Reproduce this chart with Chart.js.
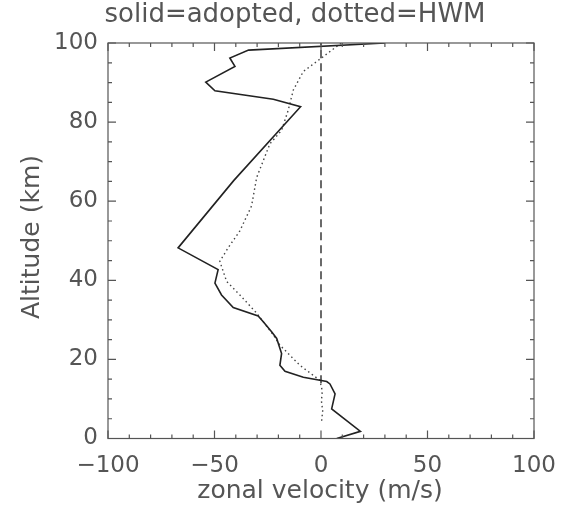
<!DOCTYPE html>
<html>
<head>
<meta charset="utf-8">
<script src="https://cdn.jsdelivr.net/npm/chart.js@4"></script>
<style>
  html, body { margin: 0; padding: 0; background: #fff; }
  #wrap { width: 567px; height: 506px; }
</style>
</head>
<body>
<div id="wrap"><canvas id="c" width="567" height="506"></canvas></div>
<script>
// ---- data (altitude in km, zonal velocity in m/s) ----
const adoptedAlt = [0, 1.8, 7.5, 11.3, 13.8, 14.4, 15.5, 17.0, 18.5, 21.5, 25.3, 27.0, 29.5, 31.0, 33.1, 36.3, 39.3, 42.7, 48.2, 65.2, 83.9, 85.8, 87.9, 90.1, 94.1, 96.2, 98.2, 100];
const adoptedVel = [7.4, 18.5, 5.0, 6.6, 4.2, 2.7, -8.3, -16.9, -19.3, -18.5, -20.8, -23.2, -27.1, -29.5, -41.2, -46.7, -49.8, -48.3, -67.1, -41.0, -9.6, -22.4, -49.8, -54.1, -40.4, -42.8, -34.0, 30.0];

const hwmAlt = [4.5, 7.0, 9.5, 12.0, 14.7, 18.5, 23.6, 26.2, 29.5, 31.7, 36.3, 39.7, 44.8, 48.2, 52.5, 58.8, 66.0, 74.5, 77.9, 83.0, 88.1, 92.8, 96.0, 100];
const hwmVel = [0.3, 0.8, 0.2, 0.6, -0.5, -9.9, -19.3, -22.4, -27.1, -30.2, -38.1, -44.3, -47.5, -43.6, -38.1, -32.6, -30.2, -24.0, -18.5, -15.4, -13.0, -8.3, -0.3, 9.5];

const zeroAlt = [14, 100];
const zeroVel = [0, 0];

const xTickValues = [-100, -50, 0, 50, 100];
const yTickValues = [0, 20, 40, 60, 80, 100];
const xMinorStep = 10;
const yMinorStep = 5;

const titleText = 'solid=adopted, dotted=HWM';
const xTitleText = 'zonal velocity (m/s)';
const yTitleText = 'Altitude (km)';

function pts(xs, ys) { return xs.map((v, i) => ({ x: v, y: ys[i] })); }

const INK = '#222';
const TEXT = '#555';
const FONT = 'DejaVu Sans';

const boxTicks = {
  id: 'boxTicks',
  afterDraw(chart) {
    const { ctx, chartArea: a, scales } = chart;
    const xs = scales.x, ys = scales.y;
    ctx.save();
    ctx.strokeStyle = '#555';
    ctx.lineWidth = 1.2;
    ctx.strokeRect(a.left, a.top, a.right - a.left, a.bottom - a.top);
    ctx.beginPath();
    for (let v = xs.min; v <= xs.max + 1e-9; v += xMinorStep) {
      const px = xs.getPixelForValue(v);
      const len = (Math.abs(v % 50) < 1e-9) ? 8 : 4;
      ctx.moveTo(px, a.bottom); ctx.lineTo(px, a.bottom - len);
      ctx.moveTo(px, a.top); ctx.lineTo(px, a.top + len);
    }
    for (let v = ys.min; v <= ys.max + 1e-9; v += yMinorStep) {
      const py = ys.getPixelForValue(v);
      const len = (Math.abs(v % 20) < 1e-9) ? 8 : 4;
      ctx.moveTo(a.left, py); ctx.lineTo(a.left + len, py);
      ctx.moveTo(a.right, py); ctx.lineTo(a.right - len, py);
    }
    ctx.stroke();

    // titles
    ctx.fillStyle = TEXT;
    ctx.textAlign = 'center';
    ctx.textBaseline = 'middle';
    ctx.font = '26px "' + FONT + '"';
    ctx.fillText(titleText, 295, 15);
    ctx.textBaseline = 'alphabetic';
    ctx.font = '25px "' + FONT + '"';
    ctx.fillText(xTitleText, 320, 498);
    ctx.save();
    ctx.translate(39, 237);
    ctx.rotate(-Math.PI / 2);
    ctx.font = '25px "' + FONT + '"';
    ctx.fillText(yTitleText, 0, 0);
    ctx.restore();
    ctx.restore();
  }
};

new Chart(document.getElementById('c'), {
  type: 'scatter',
  data: {
    datasets: [
      { label: 'adopted', data: pts(adoptedVel, adoptedAlt), showLine: true, borderColor: INK, borderWidth: 1.6, pointRadius: 0, fill: false, tension: 0 },
      { label: 'HWM', data: pts(hwmVel, hwmAlt), showLine: true, borderColor: '#444', borderWidth: 1.4, borderDash: [1.5, 3], pointRadius: 0, fill: false, tension: 0 },
      { label: 'zero', data: pts(zeroVel, zeroAlt), showLine: true, borderColor: '#444', borderWidth: 1.6, borderDash: [8, 5], pointRadius: 0, fill: false }
    ]
  },
  options: {
    responsive: false,
    animation: false,
    devicePixelRatio: 1,
    layout: { padding: { left: 0, right: 33, top: 43, bottom: 0 } },
    plugins: { legend: { display: false }, title: { display: false }, tooltip: { enabled: false } },
    scales: {
      x: {
        type: 'linear', min: -100, max: 100,
        afterFit(s) { s.height = 67.5; s.paddingLeft = 0; s.paddingRight = 0; },
        afterBuildTicks(s) { s.ticks = xTickValues.map(v => ({ value: v })); },
        grid: { display: false, drawTicks: false },
        border: { display: false },
        ticks: { color: TEXT, font: { family: FONT, size: 23 }, padding: 14, maxRotation: 0,
          callback: v => (v < 0 ? '\u2212' + Math.abs(v) : String(v)) }
      },
      y: {
        type: 'linear', min: 0, max: 100,
        afterFit(s) { s.width = 108; s.paddingTop = 0; s.paddingBottom = 0; },
        afterBuildTicks(s) { s.ticks = yTickValues.map(v => ({ value: v })); },
        grid: { display: false, drawTicks: false },
        border: { display: false },
        ticks: { color: TEXT, font: { family: FONT, size: 23 }, padding: 10 }
      }
    }
  },
  plugins: [boxTicks]
});
</script>
</body>
</html>
